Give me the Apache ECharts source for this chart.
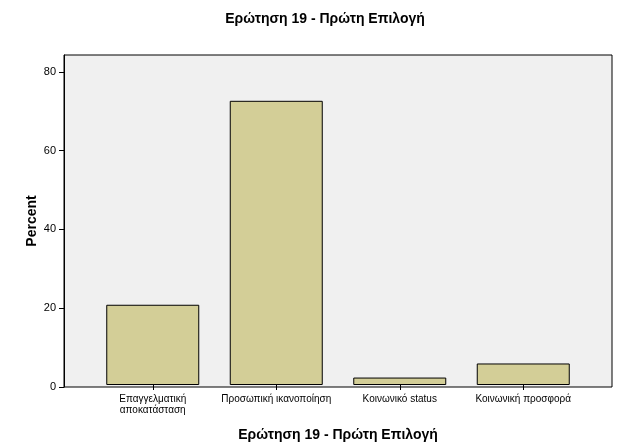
<!DOCTYPE html>
<html><head><meta charset="utf-8">
<script src="https://cdn.jsdelivr.net/npm/echarts@6/dist/echarts.min.js"></script>
<style>html,body{margin:0;padding:0;background:#fff}#c{width:627px;height:447px}</style>
</head><body><div id="c"></div>
<script>
const categories = ['Επαγγελματική\nαποκατάσταση', 'Προσωπική ικανοποίηση', 'Κοινωνικό status', 'Κοινωνική προσφορά'];
const percentValues = [20.5, 72.6, 1.9, 5.5];
const yTicks = [0, 20, 40, 60, 80];
const chartTitle = 'Ερώτηση 19 - Πρώτη Επιλογή';
const xName = 'Ερώτηση 19 - Πρώτη Επιλογή';
const yName = 'Percent';

const yMax = 84.3;
const font = 'Arial, "Liberation Sans", sans-serif';
const chart = echarts.init(document.getElementById('c'));
chart.setOption({
  animation: false,
  backgroundColor: '#ffffff',
  title: {
    text: chartTitle, left: 320, top: 7, textAlign: 'center',
    textStyle: { fontFamily: font, fontSize: 14, fontWeight: 'bold', color: '#000' }
  },
  grid: [
    { left: 64, right: 15, top: 55, bottom: 60, show: true, backgroundColor: '#f0f0f0', borderColor: '#000', borderWidth: 1, containLabel: false },
    { left: 91, right: 42, top: 55, bottom: 60, containLabel: false }
  ],
  xAxis: [
    { type: 'category', gridIndex: 0, data: ['a'], show: false },
    {
      type: 'category', gridIndex: 1, data: categories,
      name: xName, nameLocation: 'middle', nameGap: 43,
      nameTextStyle: { fontFamily: font, fontSize: 14, fontWeight: 'bold', color: '#000' },
      axisLine: { show: false },
      axisTick: { show: true, alignWithLabel: true, length: 5, lineStyle: { color: '#000' } },
      axisLabel: { fontFamily: font, fontSize: 10, color: '#000', margin: 9, lineHeight: 11, interval: 0 }
    }
  ],
  yAxis: [
    {
      type: 'value', gridIndex: 0, min: 0, max: yMax,
      name: yName, nameLocation: 'middle', nameGap: 25, nameRotate: 90, nameMoveOverlap: false,
      nameTextStyle: { fontFamily: font, fontSize: 14, fontWeight: 'bold', color: '#000' },
      axisLine: { show: true, lineStyle: { color: '#000' } },
      axisTick: { show: true, length: 5, customValues: yTicks, lineStyle: { color: '#000' } },
      axisLabel: { fontFamily: font, fontSize: 11, color: '#000', margin: 8, customValues: yTicks },
      splitLine: { show: false }
    },
    { type: 'value', gridIndex: 1, min: 0, max: yMax, show: false, splitLine: { show: false } }
  ],
  series: [{
    type: 'bar', xAxisIndex: 1, yAxisIndex: 1, data: percentValues, barWidth: 93,
    itemStyle: { color: '#d3ce97', borderColor: '#000', borderWidth: 1 }
  }]
});
</script></body></html>
